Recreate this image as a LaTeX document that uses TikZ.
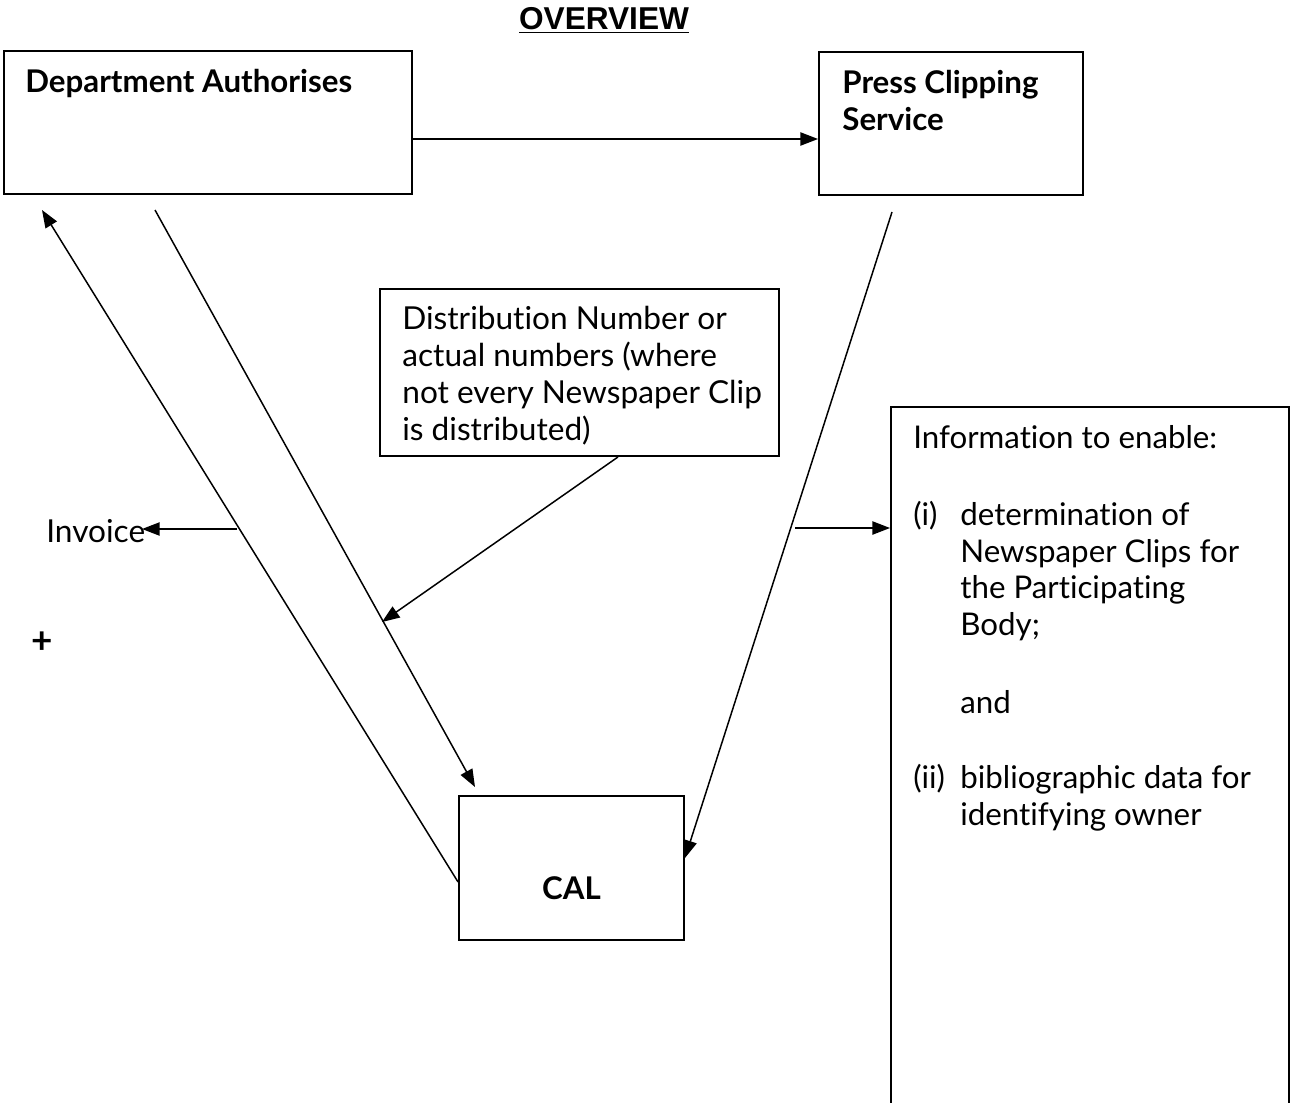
\documentclass[tikz,border=0pt]{standalone}
\usepackage{fontspec}
\setmainfont[Ligatures=NoCommon]{Lato}
\newfontfamily\titlefont{Liberation Sans}
\usetikzlibrary{arrows.meta,fit}
\begin{document}
\begin{tikzpicture}[x=0.02cm,y=-0.02cm,
  box/.style={draw, line width=1.1pt, inner sep=0pt},
  conn/.style={line width=0.85pt, -{Triangle[length=10pt,width=7.5pt]}},
  lbl/.style={anchor=base west, inner sep=0pt, font=\fontsize{17.8}{21}\selectfont},
  dlbl/.style={anchor=base west, inner sep=0pt, font=\fontsize{18}{21}\selectfont},
  blbl/.style={anchor=base west, inner sep=0pt, font=\bfseries\fontsize{17.8}{21}\selectfont}]
\useasboundingbox (0,0) rectangle (1291,1102);
% title
\node[anchor=base, inner sep=0pt, font=\titlefont\bfseries\fontsize{18}{21}\selectfont] (title) at (604,30) {\underline{OVERVIEW}};
% boxes
\node[box, fit={(4,51) (412,194)}] (da) {};
\node[box, fit={(819,52) (1083,195)}] (pcs) {};
\node[box, fit={(380,289) (779,456)}] (dist) {};
\node[box, fit={(891,407) (1289,1120)}] (info) {};
\node[box, fit={(459,796) (684,940)}] (cal) {};
% box texts
\node[blbl] (datxt) at (25,92) {Department Authorises};
\node[blbl] (pcs1) at (842,93) {Press Clipping};
\node[blbl] (pcs2) at (842,130) {Service};
\node[blbl, anchor=base] (caltxt) at (571.5,899) {CAL};
\node[dlbl] (d1) at (402,329) {Distribution Number or};
\node[dlbl] (d2) at (402,366) {actual numbers (where};
\node[dlbl] (d3) at (402,403) {not every Newspaper Clip};
\node[dlbl] (d4) at (402,440) {is distributed)};
\node[lbl] (i1) at (913,448) {Information to enable:};
\node[lbl] (i2a) at (913,525) {(i)};
\node[lbl] (i2) at (960,525) {determination of};
\node[lbl] (i3) at (960,562) {Newspaper Clips for};
\node[lbl] (i4) at (960,598) {the Participating};
\node[lbl] (i5) at (960,635) {Body;};
\node[lbl] (i6) at (960,713) {and};
\node[lbl] (i7a) at (913,788) {(ii)};
\node[lbl] (i7) at (960,788) {bibliographic data for};
\node[lbl] (i8) at (960,825) {identifying owner};
\node[dlbl] (inv) at (46,542) {Invoice};
\node[anchor=center, inner sep=0pt, font=\bfseries\fontsize{21}{24}\selectfont] (plus) at (42,643) {+};
% free ends
\coordinate (daout) at (155,210);
\coordinate (calin) at (475,787);
\coordinate (dain) at (42,210);
\coordinate (join) at (382,622);
\coordinate (pcsout) at (892,212);
\coordinate (infoout) at (795,528);
\coordinate (invout) at (237,529);
\coordinate (invin) at (142,529);
% connectors
\draw[conn] ([yshift=-0.33cm]da.east) -- ([yshift=-0.33cm]da.east -| pcs.west);
\draw[conn] (daout) -- (calin);
\draw[conn] ([yshift=-0.28cm]cal.west) -- (dain);
\draw[conn] ([xshift=0.77cm]dist.south) -- (join);
\draw[conn] (pcsout) -- ([yshift=0.2cm]cal.east);
\draw[conn] (infoout) -- (infoout -| info.west);
\draw[conn] (invout) -- (invin);
\end{tikzpicture}
\end{document}
